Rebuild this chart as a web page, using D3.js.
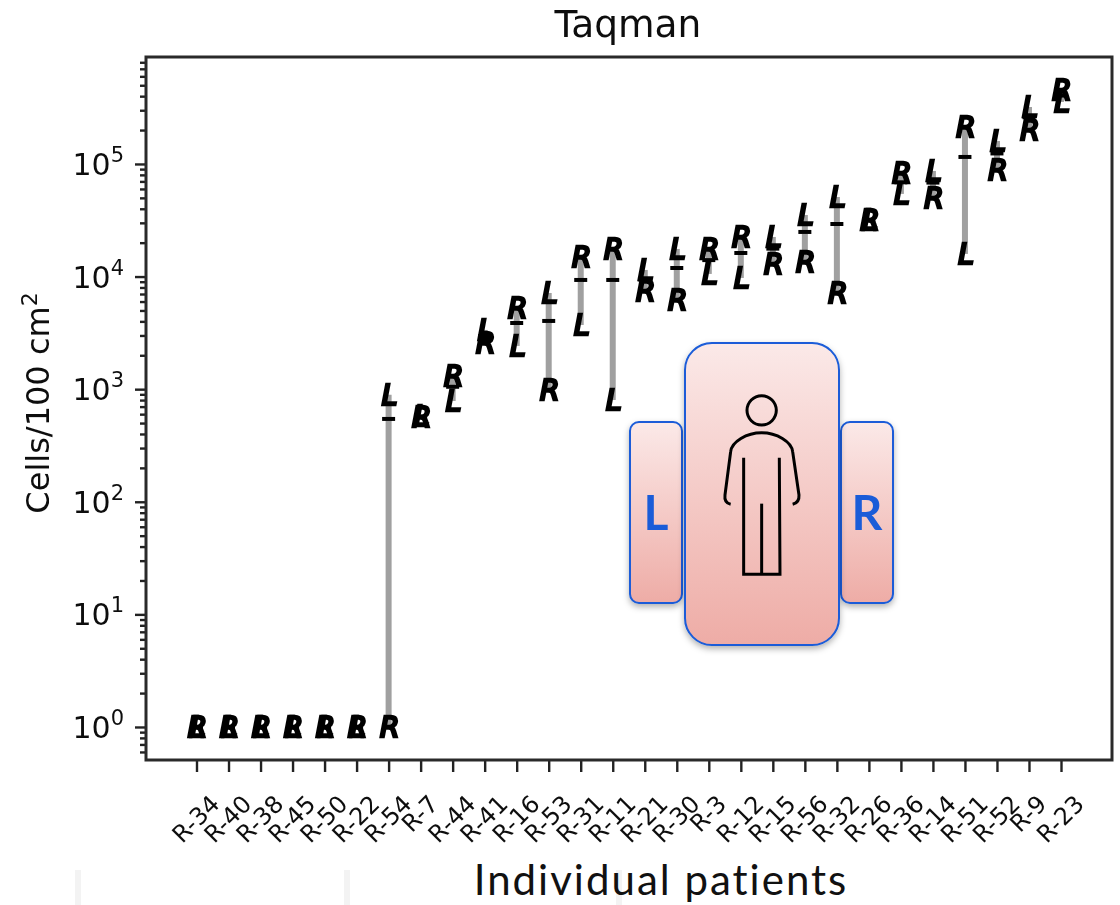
<!DOCTYPE html>
<html>
<head>
<meta charset="utf-8">
<script src="https://cdn.jsdelivr.net/npm/d3@7"></script>
<style>
html, body { margin: 0; padding: 0; background: #fff; }
svg { display: block; }
text { font-family: "DejaVu Sans", sans-serif; fill: #111; }
.marker { font-style: oblique; font-size: 28px; fill: #000; stroke: #000; stroke-width: 2.7px; text-anchor: middle; }
.tick-label { font-size: 24px; }
.big { font-family: Lato, "Open Sans", sans-serif; fill: #111; }
</style>
</head>
<body>
<svg class="chart" width="1120" height="905"></svg>
<script>
// values, cells/100 cm2
const patients = ['R-34','R-40','R-38','R-45','R-50','R-22','R-54','R-7','R-44','R-41','R-16','R-53','R-31','R-11','R-21','R-30','R-3','R-12','R-15','R-56','R-32','R-26','R-36','R-14','R-51','R-52','R-9','R-23']
const leftValues = [1,1,1,1,1,1,890,578,785,3357,2420,7150,3716,802,11450,17590,10550,9720,22480,35240,50900,31830,54200,86700,15880,160000,320600,355400]
const rightValues = [1,1,1,1,1,1,1,566,1310,2570,5260,984,14930,17590,7450,6190,17590,22480,12940,13490,7150,31830,83200,49900,213000,88500,200400,454000]
const meanValues = [1,1,1,1,1,1,544,572,1050,2960,3870,4035,9330,9330,9400,11920,14000,16200,17700,24900,29300,31830,68700,68300,115400,124000,260000,405000]
const majorTicks = [1,10,100,1000,10000,100000]
const minorFactors = [2,3,4,5,6,7,8,9]
const minorBases = [0.1,1,10,100,1000,10000,100000]

const margin = { left: 146, right: 1112, top: 57, bottom: 760 }

const svg = d3.select('.chart')

// gradient for the body diagram and a soft shadow
const defs = svg.append('defs')
const grad = defs.append('linearGradient').attr('id', 'pink').attr('x1', 0).attr('y1', 0).attr('x2', 0).attr('y2', 1)
grad.append('stop').attr('offset', '0%').attr('stop-color', '#fbe9e8')
grad.append('stop').attr('offset', '100%').attr('stop-color', '#eeaca6')
const shadow = defs.append('filter').attr('id', 'shadow').attr('x', '-20%').attr('y', '-20%').attr('width', '140%').attr('height', '140%')
shadow.append('feDropShadow').attr('dx', 0).attr('dy', 3).attr('stdDeviation', 3).attr('flood-color', '#000').attr('flood-opacity', 0.3)
defs.append('filter').attr('id', 'soft').attr('x', '-5%').attr('y', '-5%').attr('width', '110%').attr('height', '110%')
    .append('feGaussianBlur').attr('stdDeviation', 0.7)

svg.append('rect').attr('width', 1120).attr('height', 905).attr('fill', '#fff')

// faint slide remains along the bottom edge
svg.selectAll('.scrap').data([75, 344, 616]).enter().append('rect')
    .attr('class', 'scrap').attr('x', d => d).attr('y', 870).attr('width', 6).attr('height', 35).attr('fill', '#f3f3f3')

const chart = svg.append('g').attr('filter', 'url(#soft)')

const x = d3.scalePoint().domain(patients).range([196.5, 1061])
const y = d3.scaleLog().domain([0.509, 891000]).range([margin.bottom, margin.top])

// axes
const minorTicks = minorBases.flatMap(b => minorFactors.map(f => b * f)).filter(v => v > y.domain()[0] && v < y.domain()[1])

const yMinor = chart.append('g').attr('transform', `translate(${margin.left},0)`)
    .call(d3.axisLeft(y).tickValues(minorTicks).tickSize(6).tickFormat(''))
const yMajor = chart.append('g').attr('transform', `translate(${margin.left},0)`)
    .call(d3.axisLeft(y).tickValues(majorTicks).tickSize(11).tickFormat(''))
const xAxis = chart.append('g').attr('transform', `translate(0,${margin.bottom})`)
    .call(d3.axisBottom(x).tickSize(12).tickFormat(''))

chart.selectAll('.domain').remove()
chart.selectAll('.tick line').attr('stroke', '#222').attr('stroke-width', 2.4)

// y tick labels, 10 with a raised exponent
majorTicks.forEach(v => {
    const t = chart.append('text').attr('x', 124).attr('y', y(v) + 11).attr('text-anchor', 'end').style('font-size', '30px')
    t.append('tspan').text('10')
    t.append('tspan').attr('dy', -13).style('font-size', '21px').text(Math.round(Math.log10(v)))
})

// rotated x labels, centred on their tick with the box top kept level
const xLabels = chart.selectAll('.tick-label').data(patients).enter().append('text')
    .attr('class', 'tick-label')
    .attr('text-anchor', 'middle')
    .attr('dy', '0.36em')
    .text(d => d)
    .each(function(d) {
        const len = this.getComputedTextLength()
        const cy = 793 + (len + 18) * 0.707 / 2
        d3.select(this).attr('transform', `translate(${x(d) - 1},${cy}) rotate(-45)`)
    })

// patient marks: bar between the sides, tick at the mean, L and R letters
const idx = d3.range(patients.length)

chart.selectAll('.bar').data(idx).enter().append('line')
    .attr('class', 'bar')
    .attr('x1', i => x(patients[i])).attr('x2', i => x(patients[i]))
    .attr('y1', i => y(leftValues[i])).attr('y2', i => y(rightValues[i]))
    .attr('stroke', '#a0a0a0').attr('stroke-width', 6)

chart.selectAll('.mean').data(idx).enter().append('line')
    .attr('class', 'mean')
    .attr('x1', i => x(patients[i]) - 6.5).attr('x2', i => x(patients[i]) + 6.5)
    .attr('y1', i => y(meanValues[i])).attr('y2', i => y(meanValues[i]))
    .attr('stroke', '#000').attr('stroke-width', 4)

chart.selectAll('.mark-l').data(idx).enter().append('text')
    .attr('class', 'marker mark-l')
    .attr('x', i => x(patients[i]) + 1).attr('y', i => y(leftValues[i]))
    .attr('dy', '0.365em').text('L')

chart.selectAll('.mark-r').data(idx).enter().append('text')
    .attr('class', 'marker mark-r')
    .attr('x', i => x(patients[i]) + 1).attr('y', i => y(rightValues[i]))
    .attr('dy', '0.365em').text('R')

// frame
chart.append('rect')
    .attr('x', margin.left).attr('y', margin.top)
    .attr('width', margin.right - margin.left).attr('height', margin.bottom - margin.top)
    .attr('fill', 'none').attr('stroke', '#2a2a2a').attr('stroke-width', 3)

// titles
chart.append('text').attr('x', 628).attr('y', 37).attr('text-anchor', 'middle').style('font-size', '37.5px').text('Taqman')

const yTitle = chart.append('text')
    .attr('transform', 'translate(49,403) rotate(-90)')
    .attr('text-anchor', 'middle').style('font-size', '32px')
yTitle.append('tspan').text('Cells/100 cm')
yTitle.append('tspan').attr('dy', -12).style('font-size', '22px').text('2')

svg.append('text').attr('class', 'big').attr('x', 661).attr('y', 895)
    .attr('text-anchor', 'middle').style('font-size', '42px').style('font-weight', 400).style('letter-spacing', '2px').text('Individual patients')

// body diagram
const diagram = svg.append('g')
const boxes = [
    { x: 630, y: 422, w: 52, h: 181, r: 9 },
    { x: 841, y: 422, w: 52, h: 181, r: 9 },
    { x: 685, y: 343, w: 154, h: 302, r: 27 }
]
diagram.selectAll('rect').data(boxes).enter().append('rect')
    .attr('x', d => d.x).attr('y', d => d.y).attr('width', d => d.w).attr('height', d => d.h).attr('rx', d => d.r)
    .attr('fill', 'url(#pink)').attr('stroke', '#1a5cd8').attr('stroke-width', 2).attr('filter', 'url(#shadow)')

diagram.selectAll('.side').data([['L', 656], ['R', 867]]).enter().append('text')
    .attr('class', 'big side').attr('x', d => d[1]).attr('y', 530)
    .attr('text-anchor', 'middle').style('font-size', '48px').style('font-weight', 700).style('fill', '#1a5cd8')
    .text(d => d[0])

const person = diagram.append('g').attr('transform', 'translate(620,335) scale(0.3333)')
    .attr('fill', 'none').attr('stroke', '#000').attr('stroke-width', 9)
person.append('circle').attr('cx', 425).attr('cy', 226).attr('r', 44)
person.append('path').attr('d', 'M332,508 C318,505 313,495 315,480 L332,350 C335,320 380,293 425,293 C470,293 515,320 518,350 L537,480 C538,495 530,505 518,508')
person.append('path').attr('d', 'M371,368 L371,718 L480,718 L478,368')
person.append('path').attr('d', 'M425,506 L425,718')
</script>
</body>
</html>
